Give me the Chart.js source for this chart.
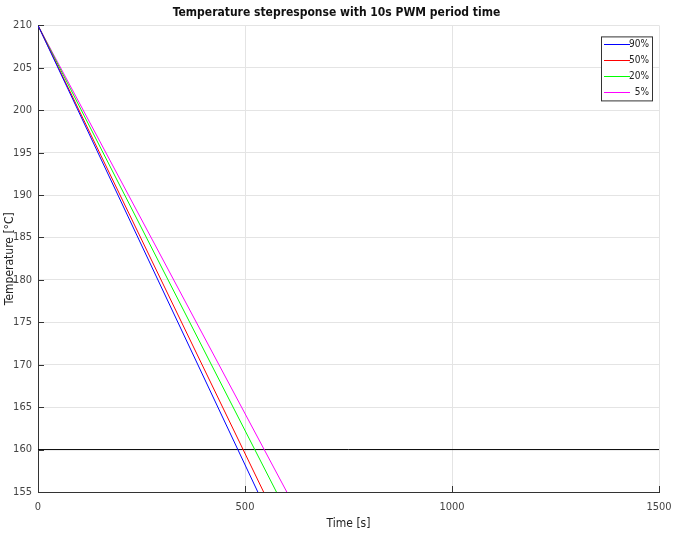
<!DOCTYPE html>
<html lang="en">
<head>
  <meta charset="UTF-8">
  <title>Temperature stepresponse</title>
  <style>
    * { margin: 0; padding: 0; box-sizing: border-box; }
    body { background: #fff; overflow: hidden; }
    #wrap { width: 673px; height: 537px; }
  </style>
  <script src="https://cdn.jsdelivr.net/npm/chart.js"></script>
</head>
<body>
  <div id="wrap"><canvas id="tempChart"></canvas></div>

  <script>
    // duty cycles and where each cooling line leaves the plot (time at 155 °C)
    const dutyLabels = ['90%', '50%', '20%', '5%'];
    const lineColors = ['#0000ff', '#ff0000', '#00ff00', '#ff00ff'];
    const startTime = 0;
    const startTemp = 210;
    const endTimes = [531, 545, 576, 601];
    const endTemp = 155;
    const limitTemp = 160;
    const xTicks = [0, 500, 1000, 1500];

    const FONT = "'Liberation Sans Narrow', 'DejaVu Sans Condensed', 'Liberation Sans', Arial, sans-serif";

    const datasets = dutyLabels.map((label, i) => ({
      label: label,
      data: [{ x: startTime, y: startTemp }, { x: endTimes[i], y: endTemp }],
      borderColor: lineColors[i],
      borderWidth: 1,
      pointRadius: 0,
      fill: false
    }));

    datasets.push({
      label: 'limit',
      data: [{ x: 0, y: limitTemp }, { x: 1500, y: limitTemp }],
      borderColor: '#000',
      borderWidth: 1,
      pointRadius: 0,
      fill: false
    });

    // MATLAB-ish legend box in the upper right of the axes
    const boxLegend = {
      id: 'boxLegend',
      afterDraw(chart) {
        const ctx = chart.ctx;
        const area = chart.chartArea;
        const w = 51, h = 64;
        const x = area.right - 7 - w;
        const y = area.top + 11;
        ctx.save();
        ctx.fillStyle = '#fff';
        ctx.fillRect(x, y, w, h);
        ctx.strokeStyle = '#333';
        ctx.lineWidth = 1;
        ctx.strokeRect(x + 0.5, y + 0.5, w, h);
        ctx.font = '10px ' + FONT;
        ctx.textAlign = 'right';
        ctx.textBaseline = 'middle';
        dutyLabels.forEach((label, i) => {
          const ly = Math.round(y + 8 + i * 16) + 0.5;
          ctx.strokeStyle = lineColors[i];
          ctx.beginPath();
          ctx.moveTo(x + 3, ly);
          ctx.lineTo(x + 29, ly);
          ctx.stroke();
          ctx.fillStyle = '#222';
          ctx.fillText(label, x + w - 3, ly);
        });
        ctx.restore();
      }
    };

    // small inward tick marks on the left and bottom axes
    const innerTicks = {
      id: 'innerTicks',
      afterDatasetsDraw(chart) {
        const ctx = chart.ctx;
        const area = chart.chartArea;
        const xs = chart.scales.x, ys = chart.scales.y;
        ctx.save();
        ctx.strokeStyle = '#333';
        ctx.lineWidth = 1;
        ctx.beginPath();
        xs.ticks.forEach(t => {
          const px = Math.round(xs.getPixelForValue(t.value)) + 0.5;
          ctx.moveTo(px, area.bottom);
          ctx.lineTo(px, area.bottom - 6);
        });
        ys.ticks.forEach(t => {
          const py = Math.round(ys.getPixelForValue(t.value)) + 0.5;
          ctx.moveTo(area.left, py);
          ctx.lineTo(area.left + 6, py);
        });
        ctx.stroke();
        ctx.restore();
      }
    };

    new Chart(document.getElementById('tempChart'), {
      type: 'line',
      data: { datasets: datasets },
      options: {
        responsive: true,
        maintainAspectRatio: false,
        animation: false,
        layout: { padding: 0 },
        plugins: {
          legend: { display: false },
          tooltip: { enabled: false },
          title: {
            display: true,
            text: 'Temperature stepresponse with 10s PWM period time',
            color: '#111',
            font: { family: FONT, size: 12, weight: 'bold' },
            padding: { top: 6, bottom: 5 }
          }
        },
        scales: {
          x: {
            type: 'linear',
            min: 0,
            max: 1500,
            afterBuildTicks: s => { s.ticks = xTicks.map(v => ({ value: v })); },
            afterFit: s => { s.height = 45; s.paddingRight = 14; s.paddingLeft = 0; },
            ticks: {
              color: '#444',
              font: { family: FONT, size: 11 },
              padding: 9,
              maxRotation: 0,
              callback: v => String(v)
            },
            grid: { color: '#e4e4e4', drawTicks: false },
            border: { color: '#333' },
            title: {
              display: true,
              text: 'Time [s]',
              color: '#222',
              font: { family: FONT, size: 12 },
              padding: { top: 0, bottom: 6 }
            }
          },
          y: {
            type: 'linear',
            min: 155,
            max: 210,
            afterFit: s => { s.width = 38; },
            ticks: {
              stepSize: 5,
              color: '#444',
              font: { family: FONT, size: 11 },
              padding: 6
            },
            grid: { color: '#e4e4e4', drawTicks: false },
            border: { color: '#333' },
            title: {
              display: true,
              text: 'Temperature [°C]',
              color: '#222',
              font: { family: FONT, size: 12 },
              padding: { top: 3, bottom: 0 }
            }
          }
        }
      },
      plugins: [boxLegend, innerTicks]
    });
  </script>
</body>
</html>
